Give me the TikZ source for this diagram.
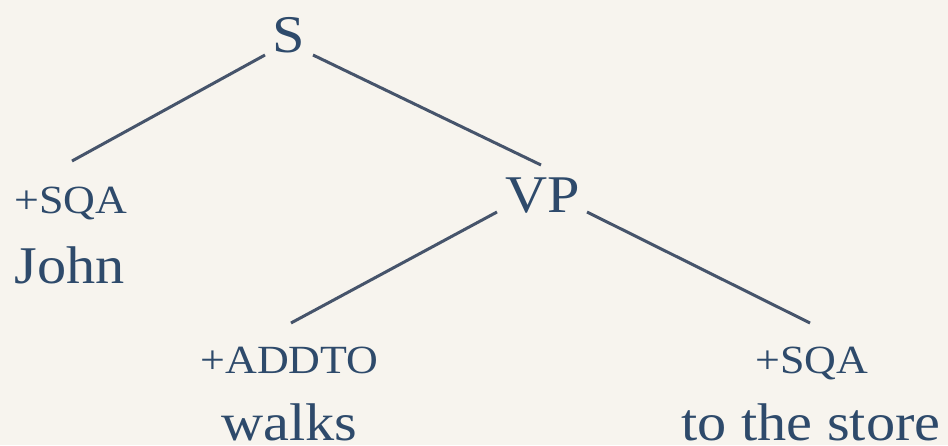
\documentclass[tikz,border=0pt]{standalone}
\usepackage{fontspec}
\setmainfont{Liberation Serif}[FakeStretch=1.1]
\usetikzlibrary{calc}
\definecolor{bgc}{HTML}{F7F4EE}
\definecolor{txt}{HTML}{2E4A6B}
\definecolor{ln}{HTML}{46546B}
\tikzset{
  big/.style={inner sep=0pt, anchor=base, text=txt, font=\fontsize{53}{60}\selectfont},
  feat/.style={inner sep=0pt, anchor=base, text=txt, font=\fontsize{40}{46}\selectfont},
  edge/.style={draw=ln, line width=3pt}
}
\begin{document}
\begin{tikzpicture}[x=1pt,y=-1pt]
\fill[bgc] (0,0) rectangle (948,445);
\useasboundingbox (0,0) rectangle (948,445);
\node[big] (S) at (289,52) {S};
\node[big] (VP) at (543,212) {VP};
\node[feat] (sqa1) at (71,213) {+SQA};
\node[big] (john) at (70,283) {John};
\node[feat] (addto) at (289.5,373) {+ADDTO};
\node[big] (walks) at (289.5,440) {walks};
\node[feat] (sqa2) at (812,373) {+SQA};
\node[big] (store) at (811,440) {to the store};
\draw[edge] ($(S.base)+(-24,3)$) -- ($(sqa1.base)+(1,-52)$);
\draw[edge] ($(S.base)+(24,3)$) -- ($(VP.base)+(-2,-47)$);
\draw[edge] ($(VP.base)+(-46,0)$) -- ($(addto.base)+(1.5,-50)$);
\draw[edge] ($(VP.base)+(44,0)$) -- ($(sqa2.base)+(-2,-50)$);
\end{tikzpicture}
\end{document}
